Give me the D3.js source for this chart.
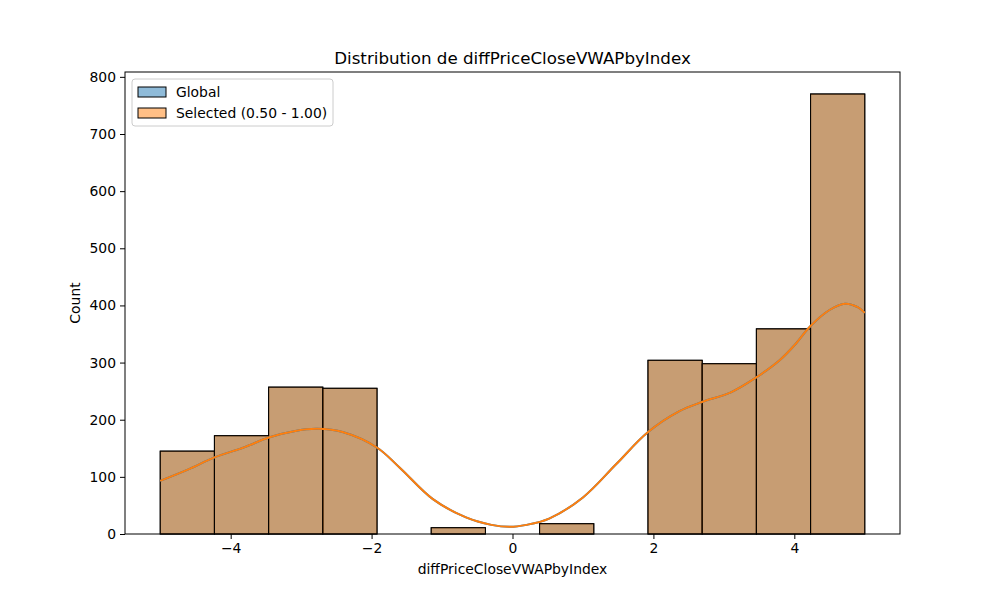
<!DOCTYPE html>
<html>
<head>
<meta charset="utf-8">
<script src="https://cdn.jsdelivr.net/npm/d3@7"></script>
<style>
  body { margin: 0; background: #fff; }
  svg { font-family: "DejaVu Sans", sans-serif; }
</style>
</head>
<body>
<svg id="chart" width="1000" height="600"></svg>
<script>
// histogram bins (13 equal bins from -5 to 5)
const binEdges = [-5, -4.2308, -3.4615, -2.6923, -1.9231, -1.1538, -0.3846, 0.3846, 1.1538, 1.9231, 2.6923, 3.4615, 4.2308, 5];
const globalCounts = [145, 172, 257, 255, 0, 11, 0, 18, 0, 304, 298, 359, 770];
const selectedCounts = [145, 172, 257, 255, 0, 11, 0, 18, 0, 304, 298, 359, 770];

// kde curve (x, count)
const kdeX = [-5.0, -4.6, -4.23, -3.8, -3.46, -3.1, -2.77, -2.4, -1.92, -1.6, -1.13, -0.66, -0.3, -0.04, 0.2, 0.52, 1.0, 1.47, 1.92, 2.37, 2.69, 3.1, 3.46, 3.8, 4.0, 4.23, 4.5, 4.72, 4.9, 5.0];
const kdeY = [93, 113, 134, 152, 169, 180, 184, 178, 151, 116, 61, 29, 16, 12.5, 16, 27, 64, 122, 178, 215, 231, 248, 274, 305, 330, 364, 392, 403, 397, 387];

const xTicks = [-4, -2, 0, 2, 4];
const yTicks = [0, 100, 200, 300, 400, 500, 600, 700, 800];

const seriesNames = ["Global", "Selected (0.50 - 1.00)"];
const seriesColors = ["#1f77b4", "#ff7f0e"];

const margin = { left: 125, right: 100, top: 72, bottom: 66 };
const width = 1000, height = 600;

const svg = d3.select("#chart");

const x = d3.scaleLinear().domain([-5.5, 5.5]).range([margin.left, width - margin.right]);
const y = d3.scaleLinear().domain([0, 808.5]).range([height - margin.bottom, margin.top]);

// bars, one series on top of the other
[globalCounts, selectedCounts].forEach((counts, s) => {
  svg.append("g")
    .selectAll("rect")
    .data(counts)
    .join("rect")
    .attr("x", (d, i) => x(binEdges[i]))
    .attr("width", (d, i) => x(binEdges[i + 1]) - x(binEdges[i]))
    .attr("y", d => y(d))
    .attr("height", d => y(0) - y(d))
    .attr("fill", seriesColors[s])
    .attr("fill-opacity", 0.5)
    .attr("stroke", "#000")
    .attr("stroke-width", 1);
});

// kde lines
const kdePts = kdeX.map((v, i) => [v, kdeY[i]]);
const line = d3.line().x(d => x(d[0])).y(d => y(d[1])).curve(d3.curveCatmullRom);
seriesColors.forEach(c => {
  svg.append("path")
    .datum(kdePts)
    .attr("d", line)
    .attr("fill", "none")
    .attr("stroke", c)
    .attr("stroke-width", 2);
});

// axes
const xAxis = d3.axisBottom(x).tickValues(xTicks).tickSize(5).tickPadding(4)
  .tickFormat(d => d < 0 ? "\u2212" + Math.abs(d) : d);
const yAxis = d3.axisLeft(y).tickValues(yTicks).tickSize(5).tickPadding(4);

const gx = svg.append("g").attr("transform", `translate(0,${height - margin.bottom})`).call(xAxis);
const gy = svg.append("g").attr("transform", `translate(${margin.left},0)`).call(yAxis);
[gx, gy].forEach(g => {
  g.select(".domain").remove();
  g.selectAll("text").attr("font-size", 13.9).attr("fill", "#000").attr("font-family", "DejaVu Sans");
  g.selectAll("line").attr("stroke", "#000");
});

// frame
svg.append("rect")
  .attr("x", margin.left).attr("y", margin.top)
  .attr("width", width - margin.left - margin.right)
  .attr("height", height - margin.top - margin.bottom)
  .attr("fill", "none").attr("stroke", "#000").attr("stroke-width", 1);

// title and labels
svg.append("text")
  .attr("x", (margin.left + width - margin.right) / 2).attr("y", 64)
  .attr("text-anchor", "middle").attr("font-size", 16.7)
  .text("Distribution de diffPriceCloseVWAPbyIndex");

svg.append("text")
  .attr("x", (margin.left + width - margin.right) / 2).attr("y", 574)
  .attr("text-anchor", "middle").attr("font-size", 13.9)
  .text("diffPriceCloseVWAPbyIndex");

svg.append("text")
  .attr("transform", `translate(80,${(margin.top + height - margin.bottom) / 2}) rotate(-90)`)
  .attr("text-anchor", "middle").attr("font-size", 13.9)
  .text("Count");

// legend
const lg = svg.append("g").attr("transform", `translate(${margin.left + 7},${margin.top + 7})`);
lg.append("rect")
  .attr("width", 201).attr("height", 47).attr("rx", 3)
  .attr("fill", "#fff").attr("fill-opacity", 0.8)
  .attr("stroke", "#ccc");
seriesNames.forEach((name, i) => {
  const row = lg.append("g").attr("transform", `translate(6,${8 + i * 21})`);
  row.append("rect")
    .attr("width", 28).attr("height", 10)
    .attr("fill", seriesColors[i]).attr("fill-opacity", 0.5)
    .attr("stroke", "#000");
  row.append("text")
    .attr("x", 38).attr("y", 10).attr("font-size", 13.9)
    .text(name);
});
</script>
</body>
</html>
